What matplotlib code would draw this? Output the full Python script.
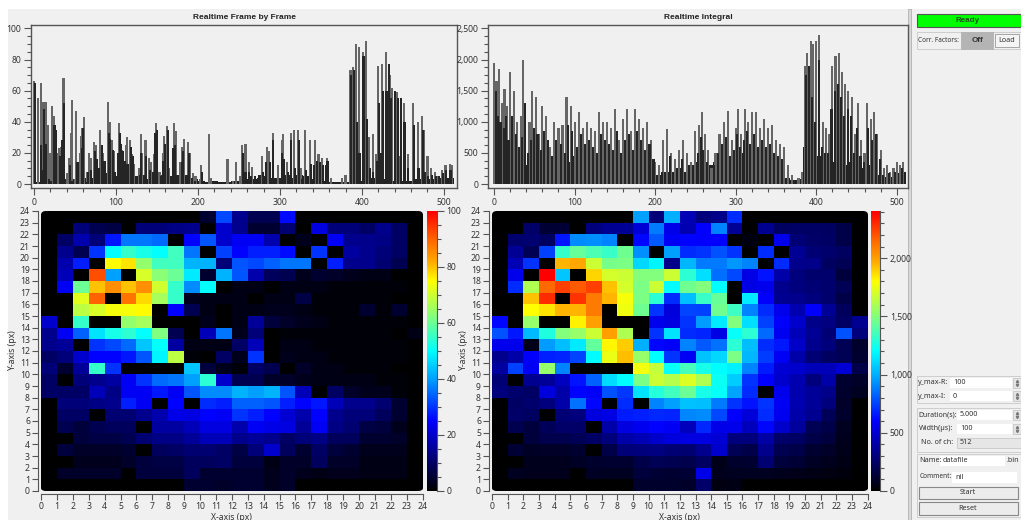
import numpy as np
import matplotlib
matplotlib.use("Agg")
import matplotlib.pyplot as plt
from matplotlib.colors import LinearSegmentedColormap
from matplotlib.patches import FancyBboxPatch, Rectangle
from matplotlib.ticker import FuncFormatter, MultipleLocator

# frame by frame spectrum: tall grey spikes, shorter dark spikes, and a floor per 8 channels
frame_peak_ch = [0, 5, 8, 11, 14, 17, 19, 22, 24, 26, 29, 31, 33, 35, 36, 40, 43, 45, 46, 50, 51, 54, 56, 57, 59, 61,
                 65, 67, 70, 73, 75, 80, 81, 84, 90, 92, 95, 98, 102, 104, 107, 110, 112, 113, 117, 120, 122, 128,
                 130, 132, 136, 140, 143, 147, 149, 153, 157, 159, 162, 165, 171, 173, 178, 181, 183, 188, 190, 194,
                 197, 202, 204, 213, 216, 236, 243, 246, 251, 254, 258, 262, 266, 278, 284, 287, 292, 298, 302, 304,
                 309, 313, 317, 322, 325, 331, 337, 343, 347, 351, 357, 362, 376, 380, 386, 389, 393, 396, 401, 405,
                 409, 413, 417, 420, 425, 429, 434, 437, 443, 447, 451, 456, 462, 468, 473, 476, 480, 484, 489, 493,
                 498, 502, 507, 510]
frame_peak = [66, 55, 65, 53, 53, 38, 20, 50, 44, 36, 20, 23, 24, 37, 68, 7, 17, 33, 54, 3, 47, 14, 20, 31, 36, 43,
              8, 20, 17, 27, 25, 15, 35, 20, 53, 40, 28, 21, 18, 39, 22, 8, 25, 30, 28, 19, 13, 10,
              32, 20, 28, 17, 14, 19, 39, 8, 20, 31, 37, 10, 39, 34, 14, 24, 29, 27, 20, 7,
              5, 3, 12, 32, 4, 16, 2, 14, 5, 25, 26, 14, 11, 18, 24, 21, 33, 12, 28, 32,
              14, 33, 35, 35, 10, 35, 28, 28, 19, 17, 17, 4, 4, 6, 73, 75, 90, 88, 85, 92,
              30, 32, 19, 76, 77, 85, 70, 62, 59, 18, 52, 19, 52, 40, 44, 35, 18, 10, 8, 5,
              9, 12, 13, 12]
frame_dark_ch = [1, 9, 10, 12, 15, 18, 21, 25, 27, 32, 34, 37, 38, 44, 47, 53, 58, 60, 63, 66, 69, 74, 77, 79, 83, 86,
                 88, 91, 93, 96, 99, 103, 105, 106, 108, 111, 114, 118, 121, 125, 129, 131, 134, 137, 141, 145, 148,
                 150, 155, 158, 160, 163, 167, 170, 172, 175, 180, 182, 186, 189, 193, 196, 205, 255, 258, 262, 265,
                 270, 275, 279, 283, 288, 291, 295, 300, 303, 305, 310, 314, 318, 323, 327, 332, 338, 342, 345, 349,
                 353, 356, 358, 387, 390, 394, 397, 402, 406, 410, 414, 418, 421, 423, 426, 430, 433, 436, 440, 444,
                 448, 452, 456, 464, 469, 474, 477, 481, 485, 490, 494, 499, 503, 508]
frame_dark = [65, 25, 9, 48, 26, 3, 2, 38, 35, 18, 28, 52, 3, 12, 2, 14, 23, 36, 1, 8, 9, 21, 16, 10, 25, 15,
              7, 33, 29, 22, 8, 20, 33, 26, 21, 15, 13, 24, 18, 4, 6, 20, 6, 18, 9, 8, 33,
              35, 5, 15, 26, 35, 5, 23, 25, 6, 14, 21, 6, 20, 4, 2, 8, 20, 8, 8, 5,
              5, 6, 8, 14, 14, 28, 4, 4, 20, 16, 8, 28, 10, 28, 3, 9, 13, 12, 15, 14,
              12, 12, 15, 70, 73, 40, 20, 82, 42, 10, 8, 15, 52, 20, 60, 60, 77, 55, 60, 55,
              55, 40, 10, 38, 10, 35, 8, 5, 6, 5, 5, 7, 9, 9]
frame_floor = [1, 1, 2, 3, 2, 1, 3, 4, 4, 5, 3, 2, 5, 4, 6, 5, 4, 3, 5, 6, 5, 4, 6, 5, 3, 2, 1, 2, 1, 1, 2, 2,
               3, 3, 4, 5, 4, 4, 6, 4, 6, 5, 3, 3, 2, 1, 1, 1, 3, 2, 3, 4, 3, 3, 2, 3, 2, 2, 3, 2, 3, 4, 4, 4]

integral_peak_ch = [0, 3, 6, 10, 13, 16, 20, 25, 28, 33, 36, 39, 44, 47, 52, 56, 60, 65, 70, 75, 80, 85, 90, 95, 100,
                    105, 110, 115, 120, 125, 130, 135, 140, 145, 150, 155, 160, 165, 170, 175, 180, 185, 190, 195,
                    200, 205, 210, 215, 220, 225, 230, 235, 240, 245, 250, 255, 258, 262, 266, 270, 275, 280, 285,
                    290, 295, 300, 303, 307, 312, 315, 320, 325, 330, 335, 340, 345, 350, 355, 360, 365, 370, 378,
                    382, 386, 389, 393, 396, 400, 404, 408, 412, 416, 420, 424, 428, 432, 436, 440, 444, 448, 452,
                    456, 460, 463, 468, 472, 476, 480, 484, 488, 492, 496, 500, 504, 508]
integral_peak = [1950, 1650, 1850, 1300, 1520, 1250, 1800, 1500, 1000, 1100, 2000, 1100, 1000, 1500, 1400, 800, 1250,
                 1100, 600, 1000, 900, 950, 1400, 1250, 1000, 1150, 900, 1000, 900, 850, 1150, 1000, 1000, 900, 1200,
                 700, 1050, 1200, 850, 1200, 1050, 900, 1000, 700, 350, 300, 700, 880, 500, 400, 550, 700, 500, 350,
                 850, 950, 1150, 800, 550, 250, 500, 800, 1000, 1180, 700, 900, 1200, 800, 1200, 1000, 1150, 1150,
                 900, 1050, 900, 950, 700, 650, 600, 300, 150, 100, 200, 1900, 2100, 2300, 2250, 2300, 2400, 1000,
                 900, 800, 1900, 2050, 2100, 1800, 1600, 1500, 1400, 800, 1300, 700, 500, 1300, 1050, 1150, 800, 550,
                 250, 300, 200, 250, 350, 300, 350]
integral_dark_ch = [2, 5, 8, 12, 15, 18, 22, 27, 31, 35, 38, 42, 46, 50, 54, 58, 62, 67, 72, 77, 83, 88, 92, 97, 103,
                    108, 113, 118, 123, 128, 133, 138, 143, 148, 153, 158, 163, 168, 173, 178, 183, 188, 193, 198,
                    208, 218, 233, 253, 257, 260, 264, 273, 278, 283, 288, 293, 298, 302, 305, 310, 314, 318, 323,
                    328, 333, 338, 343, 348, 353, 358, 387, 391, 395, 399, 403, 407, 411, 415, 419, 423, 427, 431,
                    435, 439, 443, 447, 451, 455, 459, 464, 469, 474, 479, 483, 490, 498, 506]
integral_dark = [1500, 1100, 1000, 900, 1100, 700, 1100, 800, 600, 750, 1300, 500, 700, 900, 800, 550, 850, 700, 400,
                 700, 650, 500, 950, 850, 600, 800, 650, 700, 600, 500, 800, 700, 650, 550, 850, 450, 700, 800, 550,
                 850, 700, 550, 650, 400, 200, 450, 400, 500, 750, 550, 350, 300, 500, 650, 750, 450, 550, 800, 600,
                 700, 850, 650, 800, 600, 700, 600, 650, 500, 450, 400, 1750, 1900, 1400, 1000, 2000, 600, 500, 500,
                 1200, 1500, 1600, 1400, 1100, 1200, 1100, 500, 900, 450, 350, 900, 700, 800, 400, 150, 180, 200, 250]
integral_floor = [200, 300, 400, 350, 300, 300, 400, 450, 450, 450, 350, 350, 450, 400, 500, 450, 450, 350, 400, 500,
                  450, 400, 450, 400, 250, 150, 200, 200, 250, 200, 300, 350, 250, 300, 350, 450, 350, 400, 500, 400,
                  500, 450, 350, 350, 250, 100, 60, 80, 600, 500, 450, 400, 350, 300, 300, 350, 250, 250, 300, 150,
                  120, 120, 180, 200]

# detector maps, first row is y=23 at the top
frame_map = np.array([
    [0, 0, 0, 0, 0, 0, 0, 0, 0, 0, 5, 32, 14, 8, 8, 26, 0, 0, 0, 0, 0, 0, 0, 0],
    [0, 0, 12, 8, 7, 0, 12, 12, 13, 14, 0, 20, 14, 5, 5, 11, 0, 22, 12, 12, 10, 14, 10, 0],
    [0, 10, 17, 12, 27, 36, 36, 35, 0, 25, 33, 20, 24, 24, 17, 0, 3, 0, 24, 14, 14, 13, 10, 0],
    [0, 14, 8, 30, 50, 55, 52, 50, 56, 36, 0, 31, 25, 28, 28, 26, 0, 30, 0, 16, 14, 12, 10, 0],
    [0, 17, 28, 0, 75, 77, 64, 56, 56, 42, 42, 12, 33, 32, 34, 36, 36, 0, 28, 14, 14, 11, 8, 0],
    [0, 18, 0, 92, 40, 0, 71, 63, 60, 48, 5, 42, 33, 17, 9, 8, 3, 5, 4, 3, 2, 2, 0, 0],
    [0, 24, 60, 80, 85, 80, 85, 70, 55, 38, 50, 0, 2, 2, 0, 2, 2, 2, 1, 1, 1, 1, 1, 0],
    [0, 0, 72, 90, 0, 88, 78, 66, 55, 3, 2, 2, 2, 0, 2, 2, 7, 1, 1, 1, 1, 1, 0, 0],
    [0, 0, 68, 71, 74, 74, 75, 0, 25, 8, 2, 0, 2, 2, 3, 3, 2, 1, 1, 1, 5, 1, 5, 0],
    [20, 0, 55, 0, 0, 64, 66, 0, 0, 0, 3, 0, 2, 15, 6, 4, 3, 2, 1, 1, 1, 1, 1, 0],
    [14, 24, 34, 47, 52, 54, 50, 62, 8, 0, 18, 36, 3, 12, 0, 1, 1, 1, 1, 1, 1, 1, 0, 2],
    [14, 15, 0, 30, 32, 35, 44, 50, 16, 2, 2, 2, 10, 18, 0, 2, 2, 1, 1, 1, 1, 1, 1, 0],
    [10, 12, 20, 25, 25, 27, 33, 49, 68, 1, 0, 10, 3, 30, 0, 3, 2, 2, 1, 1, 1, 1, 1, 0],
    [12, 5, 15, 55, 30, 0, 0, 0, 0, 44, 6, 3, 1, 10, 8, 0, 4, 2, 2, 1, 1, 1, 0, 0],
    [10, 0, 12, 14, 16, 24, 30, 35, 36, 40, 54, 20, 8, 8, 4, 4, 3, 2, 2, 2, 2, 1, 1, 0],
    [10, 10, 10, 18, 13, 24, 24, 27, 24, 33, 38, 38, 42, 40, 42, 33, 18, 0, 10, 4, 3, 3, 1, 0],
    [0, 12, 12, 13, 14, 28, 24, 0, 25, 0, 29, 28, 34, 34, 33, 28, 25, 27, 18, 14, 14, 11, 5, 0],
    [0, 10, 10, 0, 11, 11, 14, 17, 23, 22, 25, 24, 30, 28, 25, 21, 17, 25, 14, 12, 12, 9, 5, 0],
    [0, 8, 6, 8, 9, 9, 0, 16, 16, 18, 22, 22, 17, 24, 23, 22, 15, 24, 13, 11, 7, 6, 3, 0],
    [0, 0, 6, 7, 7, 8, 11, 13, 13, 15, 18, 18, 14, 15, 14, 10, 12, 13, 9, 9, 5, 5, 4, 0],
    [0, 6, 4, 4, 4, 5, 0, 9, 10, 11, 11, 10, 7, 12, 20, 9, 5, 10, 6, 5, 3, 3, 3, 0],
    [0, 0, 3, 3, 3, 4, 6, 7, 7, 9, 9, 10, 6, 6, 2, 4, 4, 9, 4, 4, 2, 2, 2, 0],
    [0, 4, 4, 4, 4, 0, 6, 6, 6, 9, 5, 5, 5, 5, 3, 4, 3, 2, 3, 3, 2, 2, 2, 0],
    [0, 0, 0, 0, 0, 0, 0, 0, 0, 5, 5, 4, 5, 5, 3, 4, 0, 0, 0, 0, 0, 0, 0, 0],
])

integral_map = np.array([
    [0, 0, 0, 0, 0, 0, 0, 0, 0, 960, 290, 1000, 430, 300, 320, 700, 0, 0, 0, 0, 0, 0, 0, 0],
    [0, 0, 250, 130, 130, 0, 300, 340, 350, 500, 880, 550, 420, 600, 900, 350, 0, 340, 230, 240, 240, 230, 170, 0],
    [0, 260, 270, 230, 650, 920, 930, 900, 0, 620, 800, 580, 610, 600, 600, 0, 40, 0, 560, 280, 250, 240, 170, 0],
    [0, 350, 200, 750, 1320, 1430, 1380, 1330, 1450, 930, 0, 960, 700, 720, 780, 720, 0, 700, 0, 350, 280, 260, 230, 0],
    [0, 430, 720, 0, 1950, 1980, 1680, 1470, 1480, 1100, 1180, 320, 1020, 880, 880, 940, 900, 0, 700, 330, 320, 230, 200, 0],
    [0, 560, 0, 2400, 1060, 0, 1880, 1700, 1680, 1500, 1500, 1680, 1300, 1120, 850, 770, 540, 640, 400, 300, 260, 260, 150, 0],
    [0, 700, 1600, 2150, 2250, 2180, 2250, 1920, 1700, 1480, 1680, 1200, 1450, 1500, 1200, 0, 540, 560, 330, 300, 280, 260, 200, 0],
    [0, 0, 1920, 2300, 0, 2280, 2100, 1950, 1780, 1480, 1300, 700, 1040, 1330, 1430, 0, 1150, 600, 340, 330, 300, 260, 170, 0],
    [0, 0, 1800, 1860, 1950, 1950, 2100, 0, 1760, 1450, 720, 520, 760, 750, 1450, 1340, 900, 700, 560, 420, 600, 350, 220, 0],
    [620, 0, 1550, 0, 0, 1830, 2000, 0, 0, 0, 560, 530, 720, 950, 1150, 1500, 1120, 750, 600, 480, 320, 310, 240, 340],
    [780, 650, 1030, 1270, 1500, 1550, 1680, 2000, 1600, 0, 720, 1130, 700, 680, 540, 1220, 1300, 840, 570, 440, 350, 280, 780, 300],
    [560, 560, 60, 950, 1040, 1150, 1420, 1820, 1900, 1000, 620, 590, 900, 800, 860, 1300, 1040, 700, 650, 470, 330, 300, 200, 110],
    [330, 400, 600, 670, 680, 760, 1200, 1750, 1930, 1550, 1200, 720, 580, 1050, 1100, 1480, 1020, 740, 580, 400, 280, 230, 200, 120],
    [380, 750, 580, 1550, 900, 0, 0, 0, 0, 1770, 1660, 1220, 1360, 1250, 1200, 1170, 900, 660, 500, 480, 440, 440, 500, 170],
    [280, 0, 340, 360, 460, 640, 820, 1110, 1200, 1480, 1680, 1620, 1710, 1600, 1230, 1080, 720, 600, 480, 420, 300, 400, 120, 100],
    [300, 260, 240, 520, 400, 610, 590, 780, 730, 1130, 1280, 1350, 1440, 1250, 1220, 970, 700, 0, 560, 410, 360, 320, 110, 80],
    [0, 240, 260, 300, 400, 860, 620, 0, 700, 0, 900, 960, 1050, 1040, 880, 720, 640, 720, 580, 420, 360, 300, 100, 0],
    [0, 250, 230, 0, 280, 300, 520, 540, 660, 670, 690, 680, 910, 920, 770, 600, 510, 700, 570, 400, 340, 210, 110, 0],
    [0, 190, 150, 210, 250, 250, 0, 400, 530, 570, 610, 580, 450, 690, 550, 560, 450, 620, 480, 370, 200, 170, 80, 0],
    [0, 0, 150, 180, 180, 200, 240, 300, 400, 430, 480, 520, 530, 530, 500, 300, 300, 390, 250, 240, 170, 150, 70, 0],
    [0, 130, 90, 100, 100, 120, 0, 170, 290, 300, 310, 280, 270, 330, 480, 200, 170, 330, 190, 170, 120, 100, 60, 0],
    [0, 0, 70, 70, 70, 90, 110, 120, 120, 170, 200, 190, 180, 230, 60, 110, 120, 270, 150, 130, 90, 70, 50, 0],
    [0, 80, 70, 70, 70, 0, 90, 80, 80, 150, 130, 120, 130, 550, 70, 80, 80, 80, 70, 60, 50, 40, 30, 0],
    [0, 0, 0, 0, 0, 0, 0, 0, 0, 110, 110, 110, 100, 250, 40, 50, 0, 0, 0, 0, 0, 0, 0, 0],
])

map_colors = [(0, "#000000"), (0.25, "#0000ff"), (0.40, "#00a0ff"), (0.50, "#00ffff"), (0.62, "#80ff80"),
              (0.75, "#ffff00"), (0.82, "#ffaa00"), (0.90, "#ff6400"), (1, "#ff0000")]
cmap = LinearSegmentedColormap.from_list("scan", map_colors)

W, H = 1021, 520
BG = "#f0f0f0"
TXT = "#333333"
EDGE = "#555555"
TICK_SIZE = 6.2

plt.rcParams["font.family"] = ["Noto Sans", "DejaVu Sans"]
fig = plt.figure(figsize=(W / 100, H / 100), dpi=100, facecolor="white")


def px_axes(left, top, right, bottom, **kw):
    return fig.add_axes([left / W, 1 - bottom / H, (right - left) / W, (bottom - top) / H], **kw)


comma = FuncFormatter(lambda v, p: f"{int(v):,}")


def style_ticks(ax):
    ax.tick_params(which="major", labelsize=TICK_SIZE, length=5, width=0.8, color=EDGE, labelcolor=TXT, pad=2)
    ax.tick_params(which="minor", length=3, width=0.8, color=EDGE)


def draw_bars(box, peak_ch, peak, dark_ch, dark, floor, ymax, ymajor, yminor, xlim, title):
    ax = px_axes(*box, facecolor=BG)
    ax.bar(np.arange(len(floor)) * 8 + 4, floor, width=8, color="#222222", zorder=1)
    ax.bar(peak_ch, peak, width=2.6, color="#666666", zorder=2)
    ax.bar(dark_ch, dark, width=2.6, color="#252525", zorder=3)
    ax.set_xlim(*xlim)
    ax.set_ylim(-ymax * 0.0256, ymax * 1.0256)
    ax.xaxis.set_major_locator(MultipleLocator(100))
    ax.xaxis.set_minor_locator(MultipleLocator(20))
    ax.yaxis.set_major_locator(MultipleLocator(ymajor))
    ax.yaxis.set_minor_locator(MultipleLocator(yminor))
    ax.yaxis.set_major_formatter(comma)
    style_ticks(ax)
    for s in ax.spines.values():
        s.set_color(EDGE)
        s.set_linewidth(1)
    ax.set_title(title, fontsize=6, fontweight="bold", family="Liberation Sans", color="#222222", pad=4)


def draw_map(box, cbox, data, vmax, major, minor):
    ax = px_axes(*box, facecolor=BG)
    mesh = ax.pcolormesh(np.arange(25), np.arange(25), data[::-1], cmap=cmap, vmin=0, vmax=vmax)
    # the plot area has slightly rounded corners
    round_box = FancyBboxPatch((0, 0), 24, 24, boxstyle="round,pad=0,rounding_size=0.3",
                               transform=ax.transData, fc="none", ec="none")
    ax.add_patch(round_box)
    mesh.set_clip_path(round_box)
    ax.set_xlim(0, 24)
    ax.set_ylim(0, 24)
    ax.set_xticks(range(25))
    ax.set_yticks(range(25))
    style_ticks(ax)
    ax.tick_params(which="major", length=4)
    for name, s in ax.spines.items():
        s.set_visible(name in ("left", "bottom"))
        s.set_color(EDGE)
        s.set_position(("outward", 2))
    ax.set_xlabel("X-axis (px)", fontsize=TICK_SIZE, color=TXT, labelpad=1)
    ax.set_ylabel("Y-axis (px)", fontsize=TICK_SIZE, color=TXT, labelpad=2)

    cax = px_axes(*cbox)
    levels = np.linspace(0, vmax, 256)
    cax.imshow(levels[:, None], origin="lower", aspect="auto", cmap=cmap, vmin=0, vmax=vmax, extent=(0, 1, 0, vmax))
    cax.set_xticks([])
    cax.yaxis.tick_right()
    cax.yaxis.set_major_locator(MultipleLocator(major))
    cax.yaxis.set_minor_locator(MultipleLocator(minor))
    cax.yaxis.set_major_formatter(comma)
    style_ticks(cax)
    for name, s in cax.spines.items():
        s.set_visible(name == "right")
        s.set_color(EDGE)


# background layer in pixel units, also used for the control panel
bg = fig.add_axes([0, 0, 1, 1], zorder=-1)
bg.set_xlim(0, W)
bg.set_ylim(H, 0)
bg.axis("off")
bg.add_patch(Rectangle((8, 9), W - 8, H - 9, fc=BG, ec="none"))
bg.add_patch(Rectangle((908, 9), 3, H - 9, fc="#d8d8d8", ec="#a8a8a8", lw=0.5))

draw_bars((31, 24.5, 457, 188), frame_peak_ch, frame_peak, frame_dark_ch, frame_dark, frame_floor,
          100, 20, 5, (-3.7, 516), "Realtime Frame by Frame")
draw_bars((488, 24.5, 908, 188), integral_peak_ch, integral_peak, integral_dark_ch, integral_dark, integral_floor,
          2500, 500, 125, (-7.5, 514), "Realtime Integral")
draw_map((41, 211, 422.7, 491), (426.7, 211, 436.7, 491), frame_map, 100, 20, 5)
draw_map((492, 211, 867.7, 491), (871, 211, 880, 491), integral_map, 2405, 500, 100)


def box(x0, y0, x1, y1, fc="white", ec="#c8c8c8", lw=0.6):
    bg.add_patch(Rectangle((x0, y0), x1 - x0, y1 - y0, fc=fc, ec=ec, lw=lw))


def label(x, y, s, ha="left", **kw):
    bg.text(x, y, s, ha=ha, va="center", fontsize=kw.pop("fontsize", 5.2), color=kw.pop("color", "#333333"), **kw)


def spin(y0, y1):
    box(1013, y0, 1021, y1, fc="#e4e4e4")
    bg.plot([1017], [y0 + (y1 - y0) * 0.3], marker="^", ms=1.6, color="#777777")
    bg.plot([1017], [y0 + (y1 - y0) * 0.7], marker="v", ms=1.6, color="#777777")


box(917, 14, 1022, 27, fc="#00ff00", ec="#555555", lw=0.8)
label(968, 20.5, "Ready", ha="center", fontweight="bold", family="Liberation Sans", fontsize=5.8, color="#205020")
box(917, 32, 1022, 49, fc=BG)
label(918, 40, "Corr. Factors:", fontsize=4.7)
box(961, 32, 993, 49, fc="#b4b4b4", ec="#b4b4b4")
label(977, 40, "Off", ha="center", fontweight="bold", family="Liberation Sans", fontsize=5.8)
box(995, 34, 1019, 47, fc="#f4f4f4", ec="#999999")
label(1007, 40.5, "Load", ha="center")

box(917, 376, 1022, 403, fc=BG)
label(918, 383, "y_max-R:")
box(950, 378, 1012, 388, ec="none")
label(953, 383, "100")
spin(378, 388)
label(918, 396, "y_max-I:")
box(950, 391, 1012, 401, ec="none")
label(953, 396, "0")
spin(391, 401)

box(917, 408, 1022, 452, fc=BG)
label(918, 415, "Duration(s):", fontsize=5)
box(957, 410, 1012, 420, ec="none")
label(960, 415, "5.000")
spin(410, 420)
label(953, 429, "Width(\u00b5s):", ha="right")
box(957, 424, 1012, 434, ec="none")
label(960, 429, "100")
spin(424, 434)
label(953, 443, "No. of ch:", ha="right")
box(957, 438, 1021, 448, fc="#e6e6e6", ec="#c8c8c8")
label(960, 443, "512")

box(917, 454, 1022, 517, fc=BG)
label(919, 461, "Name:")
box(940, 456, 1005, 466, ec="none")
label(943, 461, "datafile")
label(1006, 461, ".bin")
label(920, 477, "Comment:", fontsize=4.7)
box(952, 472, 1017, 483, ec="none")
label(955, 477.5, "nil")
box(919, 487, 1018, 499, fc="#ececec", ec="#888888", lw=0.8)
label(968, 493, "Start", ha="center")
box(919, 502, 1018, 515, fc="#ececec", ec="#888888", lw=0.8)
label(968, 508.5, "Reset", ha="center")

fig.savefig("out.png", dpi=100)
